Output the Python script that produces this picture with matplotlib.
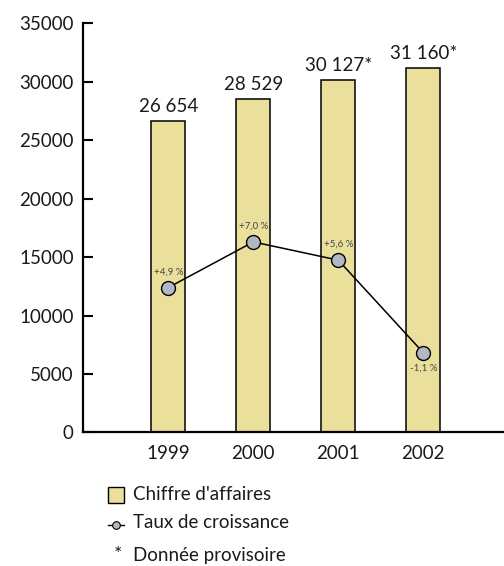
import matplotlib.pyplot as plt
from matplotlib.patches import Rectangle
from matplotlib.lines import Line2D

plt.rcParams['font.family'] = ['Lato', 'DejaVu Sans']

# Data
years = ["1999", "2000", "2001", "2002"]
chiffre = [26654, 28529, 30127, 31160]
chiffre_labels = ["26 654", "28 529", "30 127*", "31 160*"]
taux_labels = ["+4,9 %", "+7,0 %", "+5,6 %", "-1,1 %"]
# height at which each growth-rate point sits on the revenue scale
taux_pos = [12390, 16300, 14740, 6820]
yticks = [0, 5000, 10000, 15000, 20000, 25000, 30000, 35000]

bar_color = "#ebdf9c"
point_color = "#b2b7c4"
text_color = "#1a1a1a"

fig = plt.figure(figsize=(5.04, 5.66), dpi=100)
ax = fig.add_axes([0.1653, 0.2362, 0.8347, 0.7223])

x = list(range(len(years)))
ax.bar(x, chiffre, width=0.4, color=bar_color, edgecolor="black", linewidth=1.1, zorder=2)
for xi, v, lab in zip(x, chiffre, chiffre_labels):
    ax.text(xi, v + 550, lab, ha="center", va="bottom", fontsize=13.5, color=text_color)

ax.plot(x, taux_pos, color="black", linewidth=1.1, marker="o", markersize=10,
        markerfacecolor=point_color, markeredgecolor="black", markeredgewidth=1.0, zorder=3)
for xi, p, lab in zip(x, taux_pos, taux_labels):
    if p < 10000:
        ax.text(xi, p - 950, lab, ha="center", va="top", fontsize=7, color="#444444")
    else:
        ax.text(xi, p + 950, lab, ha="center", va="bottom", fontsize=7, color="#444444")

ax.set_xlim(-1.0, 3.95)
ax.set_ylim(0, 35000)
ax.set_yticks(yticks)
ax.set_yticklabels([str(t) for t in yticks], fontsize=13.5, color=text_color)
ax.set_xticks(x)
ax.set_xticklabels(years, fontsize=13.5, color=text_color)
ax.tick_params(axis="y", direction="in", length=7, width=1.5, pad=7)
ax.tick_params(axis="x", length=0, pad=9)

for side in ["top", "right"]:
    ax.spines[side].set_visible(False)
for side in ["left", "bottom"]:
    ax.spines[side].set_linewidth(1.6)

# Legend drawn under the plot
W, H = 504, 566
fig.patches.append(Rectangle((108 / W, 1 - 503 / H), 16 / W, 16 / H, transform=fig.transFigure,
                             facecolor=bar_color, edgecolor="black", linewidth=1.0))
fig.text(133 / W, 1 - 494 / H, "Chiffre d'affaires", fontsize=13.5, va="center", color=text_color)
fig.lines.append(Line2D([108 / W, 124 / W], [1 - 525 / H, 1 - 525 / H], transform=fig.transFigure,
                        color="black", linewidth=1.0))
fig.lines.append(Line2D([116 / W], [1 - 525 / H], transform=fig.transFigure, marker="o",
                        markersize=5.5, markerfacecolor=point_color, markeredgecolor="black",
                        markeredgewidth=0.8, linestyle="none"))
fig.text(133 / W, 1 - 523 / H, "Taux de croissance", fontsize=13.5, va="center", color=text_color)
fig.text(114 / W, 1 - 555 / H, "*", fontsize=14, va="center", color=text_color)
fig.text(133 / W, 1 - 555 / H, "Donnée provisoire", fontsize=13.5, va="center", color=text_color)

fig.savefig("out.png", dpi=100)
